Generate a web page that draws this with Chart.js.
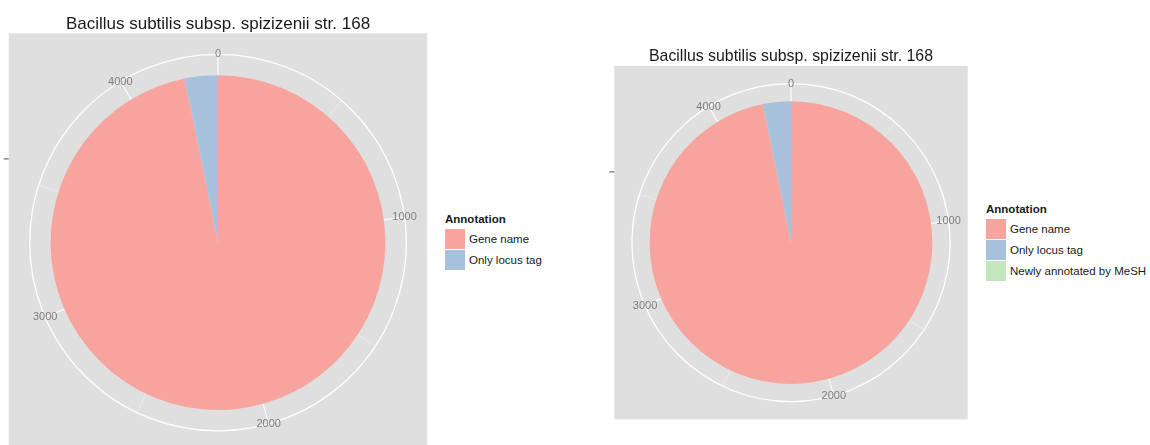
<!DOCTYPE html>
<html>
<head>
<meta charset="utf-8">
<title>Annotation pies</title>
<script src="https://cdn.jsdelivr.net/npm/chart.js@4.4.0/dist/chart.umd.min.js"></script>
<style>
    body {
        margin: 0;
        width: 1150px;
        height: 445px;
        overflow: hidden;
        position: relative;
        background: #ffffff;
        font-family: Arial, "Liberation Sans", sans-serif;
    }
    canvas { position: absolute; top: 0; }
    .legend { position: absolute; font-size: 11.5px; color: #1a1a1a; }
    .legend-title { font-weight: bold; line-height: 14px; height: 14px; margin-bottom: 2px; }
    .legend-item { display: flex; align-items: center; height: 21px; }
    .legend-key { width: 20px; height: 20px; margin-right: 4px; }
</style>
</head>
<body>
<canvas id="pieLeft" width="430" height="445" style="left:0px"></canvas>
<canvas id="pieRight" width="380" height="445" style="left:600px"></canvas>
<div id="pieLeftLegend" class="legend" style="left:445px; top:212px"></div>
<div id="pieRightLegend" class="legend" style="left:986px; top:202px"></div>
<script>
// Data
const chartTitle = 'Bacillus subtilis subsp. spizizenii str. 168';
const legendTitle = 'Annotation';
const categories = ['Gene name', 'Only locus tag'];
const counts = [4240, 140];
const categoriesMesh = ['Gene name', 'Only locus tag', 'Newly annotated by MeSH'];
const countsMesh = [4240, 140, 0];
const sliceColours = ['#f7a49f', '#a7c0dc', '#c3e6bc'];
const thetaTicks = [0, 1000, 2000, 3000, 4000];
const thetaMinorTicks = [500, 1500, 2500, 3500];

// ggplot-like polar panel: grey square, outer ring, theta grid lines and labels
const polarPanel = {
    id: 'polarPanel',
    beforeDraw(chart) {
        const arc = chart.getDatasetMeta(0).data[0];
        const ctx = chart.ctx;
        const cx = arc.x, cy = arc.y, r = arc.outerRadius;
        const half = r * 1.25;
        const ring = r * 1.125;
        const values = chart.data.datasets[0].data;
        const total = values.reduce((a, b) => a + b, 0);
        const angleOf = v => -Math.PI / 2 + v / total * Math.PI * 2;

        ctx.save();
        ctx.fillStyle = '#dfdfdf';
        ctx.fillRect(cx - half, cy - half, half * 2, half * 2);

        // small tick on the radial axis
        ctx.strokeStyle = '#4d4d4d';
        ctx.lineWidth = 1;
        ctx.beginPath();
        ctx.moveTo(cx - half - 5, cy - r / 2);
        ctx.lineTo(cx - half, cy - r / 2);
        ctx.stroke();

        ctx.strokeStyle = 'rgba(255,255,255,0.55)';
        ctx.lineWidth = 0.6;
        thetaMinorTicks.forEach(v => {
            const a = angleOf(v);
            ctx.beginPath();
            ctx.moveTo(cx, cy);
            ctx.lineTo(cx + ring * Math.cos(a), cy + ring * Math.sin(a));
            ctx.stroke();
        });

        ctx.strokeStyle = '#ffffff';
        ctx.lineWidth = 1.1;
        thetaTicks.forEach(v => {
            const a = angleOf(v);
            ctx.beginPath();
            ctx.moveTo(cx, cy);
            ctx.lineTo(cx + ring * Math.cos(a), cy + ring * Math.sin(a));
            ctx.stroke();
        });

        ctx.lineWidth = 1.3;
        ctx.beginPath();
        ctx.arc(cx, cy, ring, 0, Math.PI * 2);
        ctx.stroke();
        ctx.restore();
    },
    afterDatasetsDraw(chart) {
        const arc = chart.getDatasetMeta(0).data[0];
        const ctx = chart.ctx;
        const cx = arc.x, cy = arc.y, r = arc.outerRadius;
        const ring = r * 1.125;
        const values = chart.data.datasets[0].data;
        const total = values.reduce((a, b) => a + b, 0);

        ctx.save();
        ctx.fillStyle = '#7f7f7f';
        ctx.font = '11px Arial, "Liberation Sans", sans-serif';
        ctx.textAlign = 'center';
        ctx.textBaseline = 'middle';
        thetaTicks.forEach(v => {
            const a = -Math.PI / 2 + v / total * Math.PI * 2;
            ctx.fillText(String(v), cx + ring * Math.cos(a), cy + ring * Math.sin(a));
        });
        ctx.restore();
    }
};

function renderPie(canvasId, labels, data, padding, titlePadding) {
    const canvas = document.getElementById(canvasId);
    if (!canvas) {
        console.error(`Canvas element with ID '${canvasId}' not found.`);
        return null;
    }
    return new Chart(canvas.getContext('2d'), {
        type: 'pie',
        data: {
            labels: labels,
            datasets: [{
                data: data,
                backgroundColor: sliceColours.slice(0, labels.length),
                borderWidth: 0
            }]
        },
        options: {
            responsive: false,
            animation: false,
            layout: { padding: padding },
            plugins: {
                legend: { display: false },
                tooltip: { enabled: false },
                title: {
                    display: true,
                    text: chartTitle,
                    color: '#1a1a1a',
                    font: { family: 'Arial, "Liberation Sans", sans-serif', size: 17, weight: 'normal', lineHeight: 1.2 },
                    padding: titlePadding
                }
            }
        },
        plugins: [polarPanel]
    });
}

// HTML legend in the ggplot style (stacked square keys)
function generateLegend(chart, legendContainerId) {
    const legendContainer = document.getElementById(legendContainerId);
    if (!legendContainer || !chart) return;
    legendContainer.innerHTML = '';

    const title = document.createElement('div');
    title.className = 'legend-title';
    title.textContent = legendTitle;
    legendContainer.appendChild(title);

    chart.data.labels.forEach((label, i) => {
        const item = document.createElement('div');
        item.className = 'legend-item';
        const key = document.createElement('span');
        key.className = 'legend-key';
        key.style.backgroundColor = chart.data.datasets[0].backgroundColor[i];
        const text = document.createElement('span');
        text.textContent = label;
        item.appendChild(key);
        item.appendChild(text);
        legendContainer.appendChild(item);
    });
}

const leftChart = renderPie('pieLeft', categories, counts,
    { left: 50, right: 44, top: 0, bottom: 35 }, { top: 14, bottom: 40.8 });
const rightChart = renderPie('pieRight', categoriesMesh, countsMesh,
    { left: 49, right: 47, top: 0, bottom: 61 }, { top: 46.4, bottom: 34.4 });

generateLegend(leftChart, 'pieLeftLegend');
generateLegend(rightChart, 'pieRightLegend');
</script>
</body>
</html>
